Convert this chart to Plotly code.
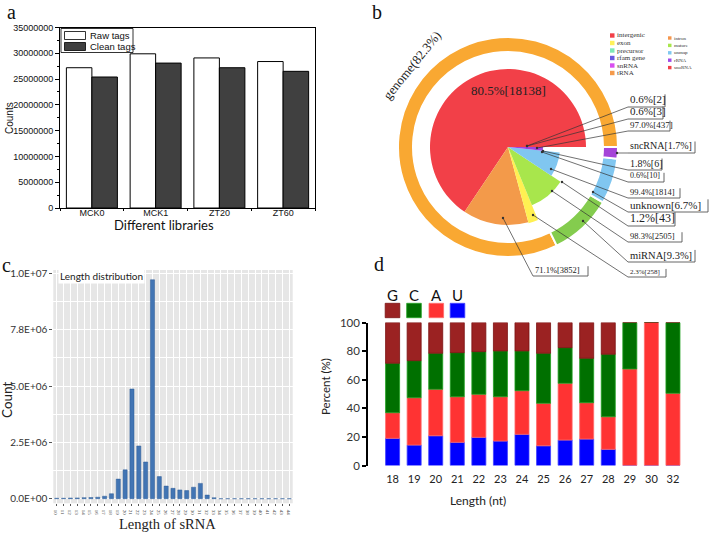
import plotly.graph_objects as go

W, H = 709, 533
def X(px): return px / W
def Y(py): return 1 - py / H

SERIF = "Liberation Serif"
ARIAL = "Liberation Sans"
SANS = "Lato"

# ---------------- data: panel a ----------------
libraries = ["MCK0", "MCK1", "ZT20", "ZT60"]
raw_tags = [27.2e6, 29.9e6, 29.1e6, 28.4e6]
clean_tags = [25.4e6, 28.1e6, 27.2e6, 26.5e6]

# ---------------- data: panel b ----------------
ring_names = ["genome", "miRNA", "unknown", "sncRNA"]
ring_pct = [82.3, 9.3, 6.7, 1.7]
inner_names = ["intergenic", "intron", "exon", "mature", "unmap", "snoRNA"]
inner_pct = [65.6, 13.6, 2.0, 9.5, 7.6, 1.7]
b_center_label = "80.5%[18138]"
b_ring_label = "genome(82.3%)"
b_label_texts = ["0.6%[2]", "0.6%[3]", "97.0%[437]", "sncRNA[1.7%]", "1.8%[6]",
                 "0.6%[10]", "99.4%[1814]", "unknown[6.7%]", "1.2%[43]",
                 "98.3%[2505]", "miRNA[9.3%]", "2.3%[258]", "71.1%[3852]"]
legend_col1 = ["intergenic", "exon", "precursor", "rfam gene", "snRNA", "tRNA"]
legend_col2 = ["intron", "mature", "unmap", "rRNA", "snoRNA"]

# ---------------- data: panel c ----------------
srna_lengths = [str(i) for i in range(10, 45)]
srna_counts = [0.02e6, 0.02e6, 0.03e6, 0.035e6, 0.045e6, 0.05e6, 0.065e6, 0.11e6,
               0.22e6, 0.87e6, 1.28e6, 4.87e6, 2.34e6, 1.63e6, 9.72e6, 0.98e6,
               0.56e6, 0.46e6, 0.39e6, 0.36e6, 0.51e6, 0.68e6, 0.16e6, 0.04e6,
               0, 0, 0, 0, 0, 0, 0, 0, 0, 0, 0]
c_ytickvals = [0, 2.5e6, 5e6, 7.5e6, 1e7]
c_yticktext = ["0.0E+00", "2.5E+06", "5.0E+06", "7.8E+06", "1.0E+07"]

# ---------------- data: panel d ----------------
nt_lengths = ["18", "19", "20", "21", "22", "23", "24", "25", "26", "27", "28", "29", "30", "32"]
pct_U = [19.0, 14.3, 20.8, 16.2, 19.7, 17.1, 21.8, 13.8, 17.8, 18.5, 11.3, 0, 0, 0]
pct_A = [17.9, 33.1, 32.5, 31.9, 30.1, 31.0, 30.5, 29.7, 39.7, 25.4, 22.8, 67.5, 100, 50.5]
pct_C = [34.6, 25.9, 25.2, 30.8, 29.8, 32.0, 27.8, 35.0, 24.9, 31.1, 43.7, 32.5, 0, 49.5]
pct_G = [28.5, 26.7, 21.5, 21.1, 20.4, 19.9, 19.9, 21.5, 17.6, 25.0, 22.2, 0, 0, 0]
nucleotides = ["G", "C", "A", "U"]

# ---------------- styles ----------------
ring_colors = ["#F9A832", "#84CC4E", "#80C6F0", "#A544D8"]
inner_colors = ["#F24048", "#F39A4A", "#FFF052", "#A8E64C", "#80C6F0", "#A044E0"]
inner_radius = [78, 78, 79, 63, 52, 35]
legend_col1_colors = ["#F24048", "#FFF25A", "#7EE8B8", "#6A5AE0", "#D94FF0", "#F59A4A"]
legend_col2_colors = ["#F5964C", "#A8E64C", "#80C8F0", "#A04AE8", "#F24048"]
nt_colors = {"G": "#9B2222", "C": "#007000", "A": "#FF3333", "U": "#0000FF"}
nt_edges = {"G": "#7A1010", "C": "#1FA01F", "A": "#FF6B6B", "U": "#4040FF"}
# label layout: x0, x1, underline y, font size, target x, target y
b_label_style = [
    (628, 665, 107, 11, 527, 146),
    (628, 663, 119, 11, 527, 146),
    (628, 670, 131, 9, 537, 148),
    (628, 695, 153, 10, 617, 153),
    (628, 662, 170, 10, 543, 151),
    (628, 664, 182, 8, 542, 152),
    (628, 680, 198, 8.5, 551, 169),
    (628, 708, 212, 11, 593, 192),
    (628, 675, 226, 12, 562, 182),
    (628, 682, 242, 8.5, 552, 191),
    (628, 695, 262, 10.5, 583, 221),
    (628, 666, 277, 7, 533, 215),
    (533, 588, 276, 8.5, 503, 218),
]
PIE_CX, PIE_CY, PIE_R = 508, 147, 112

fig = go.Figure()
shapes = []
ann = []

# ================= Panel a =================
fig.add_trace(go.Bar(x=libraries, y=raw_tags, width=0.4, offset=-0.4,
                     marker=dict(color="white", line=dict(color="black", width=1)),
                     xaxis="x", yaxis="y", showlegend=False))
fig.add_trace(go.Bar(x=libraries, y=clean_tags, width=0.4, offset=0,
                     marker=dict(color="#404040", line=dict(color="black", width=1)),
                     xaxis="x", yaxis="y", showlegend=False))
shapes.append(dict(type="rect", xref="paper", yref="paper", x0=X(61), x1=X(133), y0=Y(52.5), y1=Y(28.5),
                   line=dict(color="black", width=0.8), fillcolor="white"))
shapes.append(dict(type="rect", xref="paper", yref="paper", x0=X(64.5), x1=X(85.5), y0=Y(39.5), y1=Y(31.5),
                   line=dict(color="black", width=0.8), fillcolor="white"))
shapes.append(dict(type="rect", xref="paper", yref="paper", x0=X(64.5), x1=X(85.5), y0=Y(50.5), y1=Y(42.5),
                   line=dict(color="black", width=0.8), fillcolor="#404040"))
ann.append(dict(text="Raw tags", x=X(87.5), y=Y(35.5), xanchor="left", yanchor="middle",
                font=dict(family=ARIAL, size=9.5, color="#111")))
ann.append(dict(text="Clean tags", x=X(87.5), y=Y(46.7), xanchor="left", yanchor="middle",
                font=dict(family=ARIAL, size=9.5, color="#111")))
ann.append(dict(text="Counts", x=X(9), y=Y(118), textangle=-90, xanchor="center", yanchor="middle",
                font=dict(family=ARIAL, size=10, color="#111")))
ann.append(dict(text="Different libraries", x=X(164), y=Y(225), xanchor="center", yanchor="middle",
                font=dict(family=SANS, size=13, color="#111")))
ann.append(dict(text="a", x=X(11), y=Y(12), xanchor="center", yanchor="middle",
                font=dict(family=SERIF, size=20, color="#111")))

# ================= Panel b =================
ring_theta, ring_width = [], []
start = 0.0
for p in ring_pct:
    w = p * 3.6
    ring_theta.append(start + w / 2)
    ring_width.append(w)
    start += w
inner_theta, inner_width = [], []
start = 0.0
for p in inner_pct:
    w = p * 3.6
    inner_theta.append(start + w / 2)
    inner_width.append(w)
    start += w

fig.add_trace(go.Barpolar(r=inner_radius, theta=inner_theta, width=inner_width,
                          marker=dict(color=inner_colors, line=dict(color="white", width=0)),
                          subplot="polar", showlegend=False, hoverinfo="skip"))
fig.add_trace(go.Barpolar(r=[15] * len(ring_pct), base=[95] * len(ring_pct), theta=ring_theta, width=ring_width,
                          marker=dict(color=ring_colors, line=dict(color="white", width=2)),
                          subplot="polar", showlegend=False, hoverinfo="skip"))

ann.append(dict(text=b_center_label, x=X(508), y=Y(90), xanchor="center", yanchor="middle",
                font=dict(family=SERIF, size=13, color="#222")))
ann.append(dict(text=b_ring_label, x=X(412), y=Y(66), textangle=-51, xanchor="center", yanchor="middle",
                font=dict(family=SERIF, size=13, color="#222")))
ann.append(dict(text="b", x=X(377), y=Y(12), xanchor="center", yanchor="middle",
                font=dict(family=SERIF, size=20, color="#111")))

for txt, (x0, x1, yu, fs, tx, ty) in zip(b_label_texts, b_label_style):
    shapes.append(dict(type="line", xref="paper", yref="paper", x0=X(tx), y0=Y(ty), x1=X(x0), y1=Y(yu),
                       line=dict(color="#333", width=0.7)))
    shapes.append(dict(type="path", xref="paper", yref="paper",
                       path=f"M {X(x0)} {Y(yu)} L {X(x1)} {Y(yu)} L {X(x1)} {Y(yu - fs * 1.15)}",
                       line=dict(color="#555", width=0.9)))
    shapes.append(dict(type="circle", xref="paper", yref="paper", x0=X(tx - 1.2), x1=X(tx + 1.2),
                       y0=Y(ty + 1.2), y1=Y(ty - 1.2), fillcolor="#333", line=dict(width=0)))
    ann.append(dict(text=txt, x=X(x0 + 1), y=Y(yu - 0.5), xanchor="left", yanchor="bottom", borderpad=0,
                    font=dict(family=SERIF, size=fs, color="#222")))

for i, (name, col) in enumerate(zip(legend_col1, legend_col1_colors)):
    yc = 35.5 + i * 7.5
    shapes.append(dict(type="rect", xref="paper", yref="paper", x0=X(610), x1=X(614.5), y0=Y(yc + 2.2), y1=Y(yc - 2.2),
                       fillcolor=col, line=dict(width=0)))
    ann.append(dict(text=name, x=X(615.5), y=Y(yc), xanchor="left", yanchor="middle", borderpad=0,
                    font=dict(family=SERIF, size=7, color="#333")))
for i, (name, col) in enumerate(zip(legend_col2, legend_col2_colors)):
    yc = 38 + i * 7.4
    shapes.append(dict(type="rect", xref="paper", yref="paper", x0=X(668), x1=X(671.5), y0=Y(yc + 1.7), y1=Y(yc - 1.7),
                       fillcolor=col, line=dict(width=0)))
    ann.append(dict(text=name, x=X(672.5), y=Y(yc), xanchor="left", yanchor="middle", borderpad=0,
                    font=dict(family=SERIF, size=5, color="#333")))

# ================= Panel c =================
shapes.append(dict(type="rect", xref="x2 domain", yref="y2 domain", x0=0, x1=1, y0=0, y1=1,
                   fillcolor="#E6E6E6", line=dict(width=0), layer="below"))
fig.add_trace(go.Bar(x=srna_lengths, y=srna_counts, width=0.6,
                     marker=dict(color="#4275B4", line=dict(color="#2E5C96", width=0.5)),
                     xaxis="x2", yaxis="y2", showlegend=False))
ann.append(dict(text="Length distribution", x=X(58), y=Y(276), xanchor="left", yanchor="middle",
                bgcolor="white", borderpad=1, font=dict(family=SANS, size=10, color="#222")))
ann.append(dict(text="Count", x=X(7), y=Y(400), textangle=-90, xanchor="center", yanchor="middle",
                font=dict(family=SANS, size=13.5, color="#222")))
ann.append(dict(text="Length of sRNA", x=X(167), y=Y(524), xanchor="center", yanchor="middle",
                font=dict(family=SERIF, size=14.5, color="#222")))
ann.append(dict(text="c", x=X(6), y=Y(265), xanchor="center", yanchor="middle",
                font=dict(family=SERIF, size=20, color="#111")))

# ================= Panel d =================
base = [0.0] * len(nt_lengths)
for nt, vals in [("U", pct_U), ("A", pct_A), ("C", pct_C), ("G", pct_G)]:
    fig.add_trace(go.Bar(x=nt_lengths, y=vals, base=list(base), width=0.65,
                         marker=dict(color=nt_colors[nt], line=dict(color=nt_edges[nt], width=0.8)),
                         xaxis="x3", yaxis="y3", showlegend=False))
    base = [b + v for b, v in zip(base, vals)]

leg_x = [392.5, 414, 436.3, 457.5]
for nt, xc in zip(nucleotides, leg_x):
    shapes.append(dict(type="rect", xref="paper", yref="paper", x0=X(xc - 7.3), x1=X(xc + 7.3),
                       y0=Y(317.7), y1=Y(303.3), fillcolor=nt_colors[nt],
                       line=dict(color=nt_edges[nt], width=0.8)))
    ann.append(dict(text=nt, x=X(xc), y=Y(295), xanchor="center", yanchor="middle",
                    font=dict(family=SANS, size=15, color="#111")))
ann.append(dict(text="Percent (%)", x=X(325), y=Y(387), textangle=-90, xanchor="center", yanchor="middle",
                font=dict(family=SANS, size=11.5, color="#222")))
ann.append(dict(text="Length (nt)", x=X(478), y=Y(500), xanchor="center", yanchor="middle",
                font=dict(family=SANS, size=12, color="#222")))
ann.append(dict(text="d", x=X(379), y=Y(264), xanchor="center", yanchor="middle",
                font=dict(family=SERIF, size=20, color="#111")))

for a in ann:
    a.setdefault("showarrow", False)
    a.setdefault("xref", "paper")
    a.setdefault("yref", "paper")

fig.update_layout(
    width=W, height=H, margin=dict(l=0, r=0, t=0, b=0, autoexpand=False),
    paper_bgcolor="white", plot_bgcolor="rgba(0,0,0,0)",
    barmode="overlay", showlegend=False,
    shapes=shapes, annotations=ann,
    # panel a
    xaxis=dict(domain=[X(60), X(315)], anchor="y", type="category", range=[-0.5, 3.5],
               showline=True, linecolor="black", linewidth=1, mirror=True,
               ticks="outside", tickson="boundaries", ticklen=2, tickcolor="black",
               ticklabelstandoff=-4,
               showgrid=False, tickfont=dict(family=ARIAL, size=9, color="#111")),
    yaxis=dict(domain=[Y(208), Y(27.5)], anchor="x", range=[0, 35e6], dtick=5e6, tickformat="d",
               showline=True, linecolor="black", linewidth=1, mirror=True,
               ticks="outside", ticklen=4, tickcolor="black", showgrid=False, zeroline=False,
               minor=dict(dtick=2.5e6, ticks="outside", ticklen=2, tickcolor="black"),
               tickfont=dict(family=ARIAL, size=9, color="#111")),
    # panel c
    xaxis2=dict(domain=[X(53.3), X(292.7)], anchor="y2", type="category", range=[-0.5, 34.5],
                showline=False, ticks="outside", ticklen=2, tickcolor="#555",
                showgrid=True, gridcolor="white", gridwidth=1,
                tickfont=dict(family=SERIF, size=5, color="#444")),
    yaxis2=dict(domain=[Y(503.2), Y(270.1)], anchor="x2", range=[-0.2e6, 10.15e6],
                tickvals=c_ytickvals, ticktext=c_yticktext,
                showline=False, ticks="outside", ticklen=3, tickcolor="#555", zeroline=False,
                showgrid=True, gridcolor="white", gridwidth=1.1,
                minor=dict(dtick=1.25e6, showgrid=True, gridcolor="white", gridwidth=0.5),
                tickfont=dict(family=SANS, size=10, color="#333")),
    # panel d
    xaxis3=dict(domain=[X(368), X(690)], anchor="y3", type="category", range=[-1.14, 13.79],
                showline=False, ticks="", showgrid=False, zeroline=False, ticklabelstandoff=5,
                tickfont=dict(family=SANS, size=11, color="#222")),
    yaxis3=dict(domain=[Y(465.5), Y(322.5)], anchor="x3", range=[0, 100], dtick=20,
                showline=True, linecolor="black", linewidth=1.5,
                ticks="outside", ticklen=4, tickwidth=1.5, tickcolor="black",
                showgrid=False, zeroline=False,
                tickfont=dict(family=SANS, size=11.5, color="#333")),
    polar=dict(domain=dict(x=[X(PIE_CX - PIE_R), X(PIE_CX + PIE_R)], y=[Y(PIE_CY + PIE_R), Y(PIE_CY - PIE_R)]),
               bgcolor="rgba(0,0,0,0)", barmode="overlay", bargap=0, hole=0,
               radialaxis=dict(range=[0, PIE_R], visible=False, showgrid=False),
               angularaxis=dict(visible=False, rotation=0, direction="counterclockwise", showgrid=False)),
)

fig.write_html("out.html", config={"displayModeBar": False},
               post_script="document.body.style.margin='0';document.body.style.padding='0';")
